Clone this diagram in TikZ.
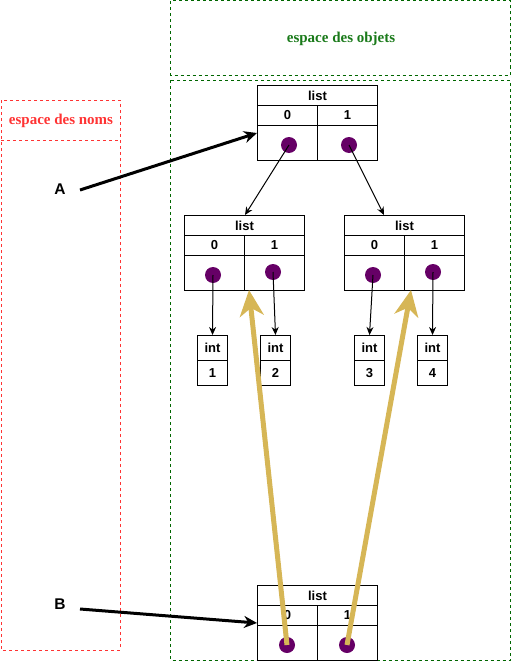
\documentclass[tikz,border=0pt]{standalone}
\usepackage{fontspec}
\setmainfont{Liberation Sans}
\newfontfamily\serifbf{Liberation Serif}[BoldFont={Liberation Serif Bold}]
\usetikzlibrary{arrows.meta}
\definecolor{redns}{HTML}{FF3333}
\definecolor{greenos}{HTML}{1A7A1A}
\definecolor{greenln}{HTML}{006600}
\definecolor{dotc}{HTML}{660066}
\definecolor{gold}{HTML}{D6B656}
\tikzset{
  x=1pt, y=-1pt,
  cellbox/.style={draw=black, line width=1pt, inner sep=0pt, anchor=north west, font=\fontsize{13}{15}\selectfont\bfseries},
  dotnode/.style={circle, fill=dotc, draw=none, minimum size=16pt, inner sep=0pt},
  zonered/.style={draw=redns, line width=1pt, dash pattern=on 3pt off 3pt},
  zonegreen/.style={draw=greenln, line width=1pt, dash pattern=on 3pt off 3pt},
  thinarrow/.style={draw=black, line width=1pt, -{Stealth[length=8pt,width=7pt]}},
  refarrow/.style={draw=black, line width=3pt, -{Stealth[length=13pt,width=12pt]}},
  goldarrow/.style={draw=gold, line width=5pt, -{Stealth[length=26pt,width=24pt,inset=8pt]}},
  varlabel/.style={font=\fontsize{15.5}{17}\selectfont\bfseries, inner sep=0pt},
  zonelabel/.style={font=\fontsize{15}{17}\selectfont\serifbf\bfseries, inner sep=0pt},
}
\newcommand{\mklist}[3]{%
  \node[cellbox, minimum width=120pt, minimum height=20pt] (#1-t) at (#2,#3) {list};
  \node[cellbox, minimum width=60pt, minimum height=20pt] (#1-i0) at (#2,#3+20) {0};
  \node[cellbox, minimum width=60pt, minimum height=20pt] (#1-i1) at (#2+60,#3+20) {1};
  \node[cellbox, minimum width=60pt, minimum height=35pt] (#1-c0) at (#2,#3+40) {};
  \node[cellbox, minimum width=60pt, minimum height=35pt] (#1-c1) at (#2+60,#3+40) {};
}
\newcommand{\mkint}[4]{%
  \node[cellbox, minimum width=30pt, minimum height=25pt] (#1-t) at (#2,#3) {int};
  \node[cellbox, minimum width=30pt, minimum height=25pt] (#1-v) at (#2,#3+25) {#4};
}
\begin{document}
\begin{tikzpicture}
\useasboundingbox (0,0) rectangle (511,661);
% zones
\draw[zonered] (1,100) rectangle (120,650);
\draw[zonered] (1,140) -- (120,140);
\node[zonelabel, text=redns] (nslabel) at (61,121) {espace des noms};
\draw[zonegreen] (170.5,1) rectangle (510,75);
\node[zonelabel, text=greenos] (oslabel) at (341,39) {espace des objets};
\draw[zonegreen] (170.5,80) rectangle (510,660);

% lists
\mklist{top}{257}{85}
\mklist{left}{184}{215}
\mklist{right}{344}{215}
\mklist{bot}{257}{585}

% ints
\mkint{i1}{197}{335}{1}
\mkint{i2}{260}{335}{2}
\mkint{i3}{354}{335}{3}
\mkint{i4}{417}{335}{4}

% dots
\node[dotnode] (top-d0) at (289,145) {};
\node[dotnode] (top-d1) at (349,145) {};
\node[dotnode] (left-d0) at (213,275) {};
\node[dotnode] (left-d1) at (273,272) {};
\node[dotnode] (right-d0) at (373,275) {};
\node[dotnode] (right-d1) at (433,272) {};
\node[dotnode] (bot-d0) at (287,645) {};
\node[dotnode] (bot-d1) at (347,645) {};

% labels
\node[varlabel] (A) at (60,189) {A};
\node[varlabel] (B) at (60,604) {B};
\coordinate (Astart) at (80,190);
\coordinate (Bstart) at (80,609);
\coordinate (Aend) at (257,133);
\coordinate (Bend) at (257,623);
\draw[refarrow] (Astart) -- (Aend);
\draw[refarrow] (Bstart) -- (Bend);

% thin arrows
\coordinate (lefttop) at (245,215);
\coordinate (righttop) at (384,215);
\draw[thinarrow] (top-d0.center) -- (lefttop);
\draw[thinarrow] (top-d1.center) -- (righttop);
\draw[thinarrow] (left-d0.center) -- (i1-t.north);
\draw[thinarrow] (left-d1.center) -- (i2-t.north);
\draw[thinarrow] (right-d0.center) -- (i3-t.north);
\draw[thinarrow] (right-d1.center) -- (i4-t.north);

% gold arrows
\coordinate (g0) at (249,290);
\coordinate (g1) at (411,290);
\draw[goldarrow] (bot-d0.center) -- (g0);
\draw[goldarrow] (bot-d1.center) -- (g1);
\end{tikzpicture}
\end{document}
